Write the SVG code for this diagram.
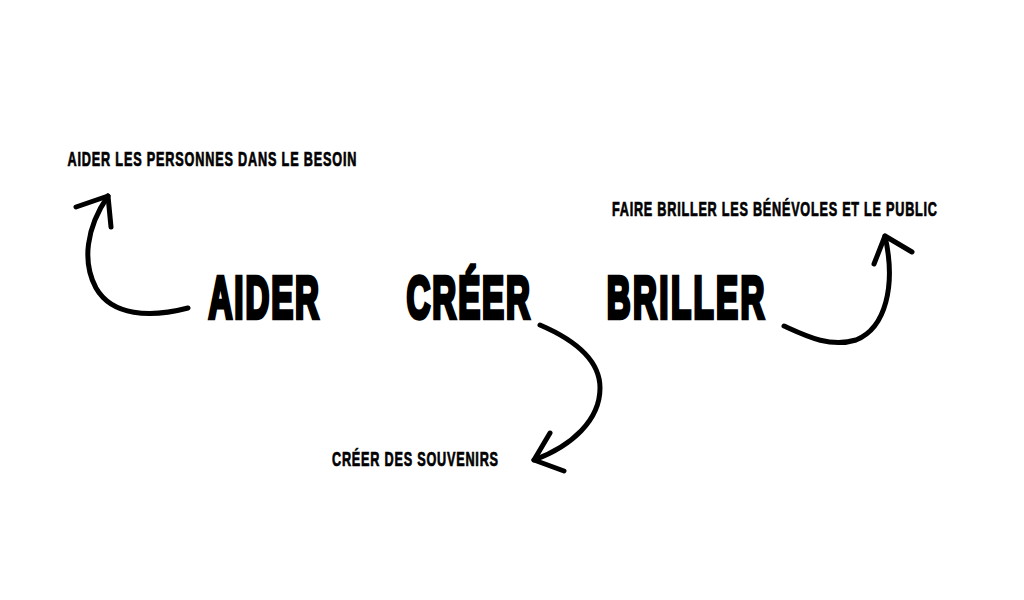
<svg xmlns="http://www.w3.org/2000/svg" width="1024" height="600" viewBox="0 0 1024 600">
<style>
.big{font-family:"Liberation Sans",Arial,sans-serif;font-weight:bold;font-size:59px;fill:#000;stroke:#000;stroke-width:3.5;stroke-linejoin:miter;vector-effect:non-scaling-stroke}
.small{font-family:"Liberation Sans",Arial,sans-serif;font-weight:bold;font-size:19.5px;fill:#000;stroke:#000;stroke-width:0.6;vector-effect:non-scaling-stroke}
.arr{fill:none;stroke:#000;stroke-width:5;stroke-linecap:round;stroke-linejoin:round}
</style>
<rect width="1024" height="600" fill="#fff"/>
<g id="aider"><text class="big" transform="translate(208.5,318) scale(0.56,1)" textLength="197.3" lengthAdjust="spacing">AIDER</text></g>
<g id="creer"><text class="big" transform="translate(406.5,318) scale(0.56,1)" textLength="220.5" lengthAdjust="spacing">CRÉER</text></g>
<g id="briller"><text class="big" transform="translate(606.8,318) scale(0.56,1)" textLength="281.3" lengthAdjust="spacing">BRILLER</text></g>
<g id="aider-label"><text class="small" transform="translate(67.5,165.5) scale(0.65,1)" textLength="444.6" lengthAdjust="spacing">AIDER LES PERSONNES DANS LE BESOIN</text></g>
<g id="briller-label"><text class="small" transform="translate(612,215.5) scale(0.65,1)" textLength="500" lengthAdjust="spacing">FAIRE BRILLER LES BÉNÉVOLES ET LE PUBLIC</text></g>
<g id="creer-label"><text class="small" transform="translate(332,465.5) scale(0.65,1)" textLength="255.4" lengthAdjust="spacing">CRÉER DES SOUVENIRS</text></g>
<g id="connectors">
<path class="arr" d="M188,308 C150,318 112,316 96,288 C82,262 86,228 108,196"/>
<path class="arr" d="M76,207 L108,196 L111,227"/>
<path class="arr" d="M540,325 C575,340 600,360 600,388 C600,420 572,446 534,460"/>
<path class="arr" d="M550,433 L534,460 L564,471"/>
<path class="arr" d="M784,326 C806,336 830,348 856,340 C886,328 896,285 885,236"/>
<path class="arr" d="M874,264 L885,236 L912,252"/>
</g>
</svg>
